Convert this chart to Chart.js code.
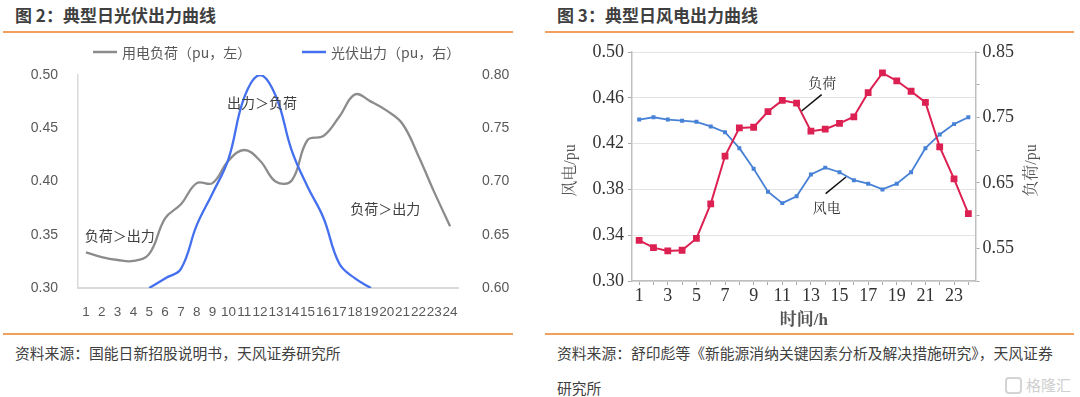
<!DOCTYPE html>
<html><head><meta charset="utf-8">
<script src="https://cdn.jsdelivr.net/npm/chart.js@4.4.1/dist/chart.umd.min.js"></script>
<style>
html,body{margin:0;padding:0;background:#fff;width:1080px;height:397px;overflow:hidden;}
body{position:relative;font-family:'Noto Sans CJK SC','Liberation Sans',sans-serif;}
.title{position:absolute;top:5px;font-size:17px;font-weight:bold;color:#3f3f3f;line-height:20px;white-space:nowrap;}
.rule{position:absolute;height:1.5px;background:#f2a15c;}
.src{position:absolute;font-size:14.8px;color:#404040;line-height:35px;white-space:nowrap;}
.box{position:absolute;top:35px;width:540px;height:300px;}
.wm{position:absolute;left:1005px;top:375px;color:#cfcfcf;font-size:15px;line-height:20px;white-space:nowrap;}
.wm span.ic{display:inline-block;width:13px;height:13px;border:2px solid #d4d4d4;border-radius:4px;vertical-align:-3px;margin-right:4px;}
</style></head><body>
<div class="title" style="left:15px">图 2：典型日光伏出力曲线</div>
<div class="title" style="left:557px">图 3：典型日风电出力曲线</div>
<div class="rule" style="left:3px;width:510px;top:31px"></div>
<div class="rule" style="left:545px;width:529px;top:31px"></div>
<div class="rule" style="left:3px;width:510px;top:333px"></div>
<div class="rule" style="left:545px;width:529px;top:333px"></div>
<div class="src" style="left:15px;top:335px">资料来源：国能日新招股说明书，天风证券研究所</div>
<div class="src" style="left:557px;top:335px">资料来源：舒印彪等《新能源消纳关键因素分析及解决措施研究》，天风证券<br>研究所</div>
<div class="wm"><span class="ic"></span>格隆汇</div>
<div class="box" style="left:0"><canvas id="c1"></canvas></div>
<div class="box" style="left:540px"><canvas id="c2"></canvas></div>
<script>
// ---------- Data: Figure 2 (PV) ----------
const hours = ['1','2','3','4','5','6','7','8','9','10','11','12','13','14','15','16','17','18','19','20','21','22','23','24'];
const pvLoad = [0.3335,0.329,0.3263,0.3254,0.332,0.3654,0.3786,0.3985,0.3985,0.4195,0.4296,0.4195,0.3998,0.401,0.439,0.4427,0.4608,0.4818,0.475,0.4665,0.454,0.424,0.390,0.358];
const pvOutput = [null,null,null,null,0.600,0.609,0.618,0.659,0.689,0.721,0.779,0.800,0.780,0.729,0.695,0.666,0.623,0.609,0.600,null,null,null,null,null];
const pvLeftTicks = [0.30,0.35,0.40,0.45,0.50];
const pvRightTicks = [0.60,0.65,0.70,0.75,0.80];
const pvLegend = ['用电负荷（pu，左）','光伏出力（pu，右）'];

// ---------- Data: Figure 3 (Wind) ----------
const windOutput = [0.441,0.443,0.441,0.440,0.439,0.435,0.430,0.416,0.398,0.378,0.368,0.374,0.393,0.399,0.395,0.388,0.385,0.380,0.385,0.395,0.416,0.428,0.437,0.443];
const windLoad = [0.562,0.551,0.546,0.547,0.565,0.618,0.691,0.734,0.735,0.759,0.776,0.772,0.729,0.732,0.741,0.751,0.788,0.818,0.806,0.790,0.773,0.705,0.656,0.603];
const windGridTicks = [0.30,0.32,0.34,0.36,0.38,0.40,0.42,0.44,0.46,0.48,0.50];
const windLeftLabels = [0.30,0.34,0.38,0.42,0.46,0.50];
const loadGridTicks = [0.50,0.55,0.60,0.65,0.70,0.75,0.80,0.85];
const loadRightLabels = [0.55,0.65,0.75,0.85];
const windHourLabels = ['1','3','5','7','9','11','13','15','17','19','21','23'];

const SANS = "'Liberation Sans','Noto Sans CJK SC',sans-serif";
const CJK = "'Noto Sans CJK SC',sans-serif";
const SERIF = "'Liberation Serif','Noto Serif CJK SC','Noto Sans CJK SC',serif";
const GRAY = '#8c8c8c', PVBLUE = '#4470f0', RED = '#dc2052', WBLUE = '#4782d6';

const inList = (list, v) => list.find(t => Math.abs(t - v) < 1e-6);
const setTicks = list => s => { s.ticks = list.map(v => ({value: v})); };

// ---------- Figure 2 ----------
const pvOverlay = {
  id: 'pvOverlay',
  afterDraw(chart) {
    const {ctx, scales: {x, y}} = chart;
    ctx.save();
    ctx.font = '14px ' + CJK;
    ctx.textBaseline = 'middle';
    ctx.textAlign = 'left';
    const items = [{t: pvLegend[0], c: GRAY, x0: 93}, {t: pvLegend[1], c: PVBLUE, x0: 302}];
    items.forEach(it => {
      ctx.strokeStyle = it.c; ctx.lineWidth = 2.5;
      ctx.beginPath(); ctx.moveTo(it.x0, 17); ctx.lineTo(it.x0 + 24, 17); ctx.stroke();
      ctx.fillStyle = '#595959';
      ctx.fillText(it.t, it.x0 + 29, 17.5);
    });
    ctx.fillStyle = '#404040';
    ctx.textAlign = 'center';
    const notes = [
      {t: '出力＞负荷', i: 11.12, v: 0.4737},
      {t: '负荷＞出力', i: 2.14, v: 0.3488},
      {t: '负荷＞出力', i: 18.9, v: 0.3742}
    ];
    notes.forEach(n => ctx.fillText(n.t, x.getPixelForValue(n.i), y.getPixelForValue(n.v)));
    ctx.restore();
  }
};

new Chart(document.getElementById('c1'), {
  type: 'line',
  data: {
    labels: hours,
    datasets: [
      {label: pvLegend[1], data: pvOutput, yAxisID: 'y1', borderColor: PVBLUE, borderWidth: 2.3,
       pointRadius: 0, tension: 0.4, fill: false, spanGaps: false},
      {label: pvLegend[0], data: pvLoad, yAxisID: 'y', borderColor: GRAY, borderWidth: 2.3,
       pointRadius: 0, tension: 0.4, fill: false}
    ]
  },
  options: {
    responsive: true, maintainAspectRatio: false, animation: false,
    layout: {padding: {top: 40, left: 0, right: 0, bottom: 0}},
    plugins: {legend: {display: false}, tooltip: {enabled: false}},
    scales: {
      x: {
        type: 'category', offset: true,
        grid: {display: false},
        border: {display: true, color: '#d9d9d9', width: 2},
        ticks: {autoSkip: false, maxRotation: 0, minRotation: 0, padding: 8, color: '#595959',
                font: {size: 13.5, family: SANS}},
        afterFit(s) { s.height = 47; }
      },
      y: {
        position: 'left', min: 0.30, max: 0.50,
        afterBuildTicks: setTicks(pvLeftTicks),
        grid: {display: false},
        border: {display: true, color: '#d9d9d9', width: 1.5},
        ticks: {padding: 12, color: '#595959', font: {size: 14, family: SANS},
                callback: v => { const t = inList(pvLeftTicks, v); return t === undefined ? '' : t.toFixed(2); }},
        afterFit(s) { s.width = 78; }
      },
      y1: {
        position: 'right', min: 0.60, max: 0.80,
        afterBuildTicks: setTicks(pvRightTicks),
        grid: {display: false},
        border: {display: false},
        ticks: {padding: 16, color: '#595959', font: {size: 14, family: SANS},
                callback: v => { const t = inList(pvRightTicks, v); return t === undefined ? '' : t.toFixed(2); }},
        afterFit(s) { s.width = 82; }
      }
    }
  },
  plugins: [pvOverlay]
});

// ---------- Figure 3 ----------
const windOverlay = {
  id: 'windOverlay',
  afterDraw(chart) {
    const {ctx, chartArea: a, scales: {x, y}} = chart;
    ctx.save();
    ctx.fillStyle = '#555';
    ctx.textAlign = 'center';
    ctx.textBaseline = 'middle';
    ctx.font = '16px ' + SERIF;
    [['风电/pu', a.left - 61], ['负荷/pu', a.right + 56]].forEach(([t, px]) => {
      ctx.save();
      ctx.translate(px, (a.top + a.bottom) / 2 + 4);
      ctx.rotate(-Math.PI / 2);
      ctx.fillText(t, 0, 0);
      ctx.restore();
    });
    ctx.font = 'bold 17px ' + SERIF;
    ctx.fillText('时间/h', (a.left + a.right) / 2, a.bottom + 40);
    ctx.fillStyle = '#333';
    ctx.font = '14px ' + SERIF;
    const notes = [
      {t: '负荷', i: 12.8, v: 0.4718, l: [12.75, 0.4628, 11.35, 0.4485]},
      {t: '风电', i: 13.1, v: 0.3624, l: [13.03, 0.3763, 14.45, 0.3908]}
    ];
    ctx.strokeStyle = '#111';
    ctx.lineWidth = 1.5;
    notes.forEach(n => {
      ctx.fillText(n.t, x.getPixelForValue(n.i), y.getPixelForValue(n.v));
      ctx.beginPath();
      ctx.moveTo(x.getPixelForValue(n.l[0]), y.getPixelForValue(n.l[1]));
      ctx.lineTo(x.getPixelForValue(n.l[2]), y.getPixelForValue(n.l[3]));
      ctx.stroke();
    });
    ctx.restore();
  }
};

new Chart(document.getElementById('c2'), {
  type: 'line',
  data: {
    labels: hours,
    datasets: [
      {label: '负荷', data: windLoad, yAxisID: 'y1', borderColor: RED, backgroundColor: RED,
       borderWidth: 2, pointStyle: 'rect', pointRadius: 4.8, pointBorderWidth: 0, tension: 0, fill: false},
      {label: '风电', data: windOutput, yAxisID: 'y', borderColor: WBLUE, backgroundColor: WBLUE,
       borderWidth: 1.8, pointStyle: 'rect', pointRadius: 2.8, pointBorderWidth: 0, tension: 0, fill: false}
    ]
  },
  options: {
    responsive: true, maintainAspectRatio: false, animation: false,
    layout: {padding: {top: 17, left: 0, right: 0, bottom: 0}},
    plugins: {legend: {display: false}, tooltip: {enabled: false}},
    scales: {
      x: {
        type: 'category', offset: true,
        grid: {display: true, drawOnChartArea: false, drawTicks: true, tickLength: 4, color: '#bfbfbf', tickColor: '#a8a8a8'},
        border: {display: true, color: '#bfbfbf', width: 1.5},
        ticks: {autoSkip: false, maxRotation: 0, minRotation: 0, padding: 0, color: '#333',
                font: {size: 18, family: SERIF},
                callback: (v, i) => windHourLabels.includes(hours[i]) ? hours[i] : ''},
        afterFit(s) { s.height = 54; }
      },
      y: {
        position: 'left', min: 0.30, max: 0.50,
        afterBuildTicks: setTicks(windGridTicks),
        grid: {color: c => inList(windLeftLabels, c.tick.value) !== undefined ? '#e3e3e3' : '#f0f0f0',
               tickLength: 4, tickColor: '#a8a8a8', lineWidth: 1},
        border: {display: true, color: '#bfbfbf', width: 1.5},
        ticks: {padding: 4, color: '#333', font: {size: 18, family: SERIF},
                callback: v => { const t = inList(windLeftLabels, v); return t === undefined ? '' : t.toFixed(2); }},
        afterFit(s) { s.width = 92; }
      },
      y1: {
        position: 'right', min: 0.50, max: 0.85,
        afterBuildTicks: setTicks(loadGridTicks),
        grid: {drawOnChartArea: false, tickLength: 4, tickColor: '#a8a8a8'},
        border: {display: true, color: '#bfbfbf', width: 1.5},
        ticks: {padding: 3, color: '#333', font: {size: 18, family: SERIF},
                callback: v => { const t = inList(loadRightLabels, v); return t === undefined ? '' : t.toFixed(2); }},
        afterFit(s) { s.width = 104.5; }
      }
    }
  },
  plugins: [windOverlay]
});
</script>
</body></html>
